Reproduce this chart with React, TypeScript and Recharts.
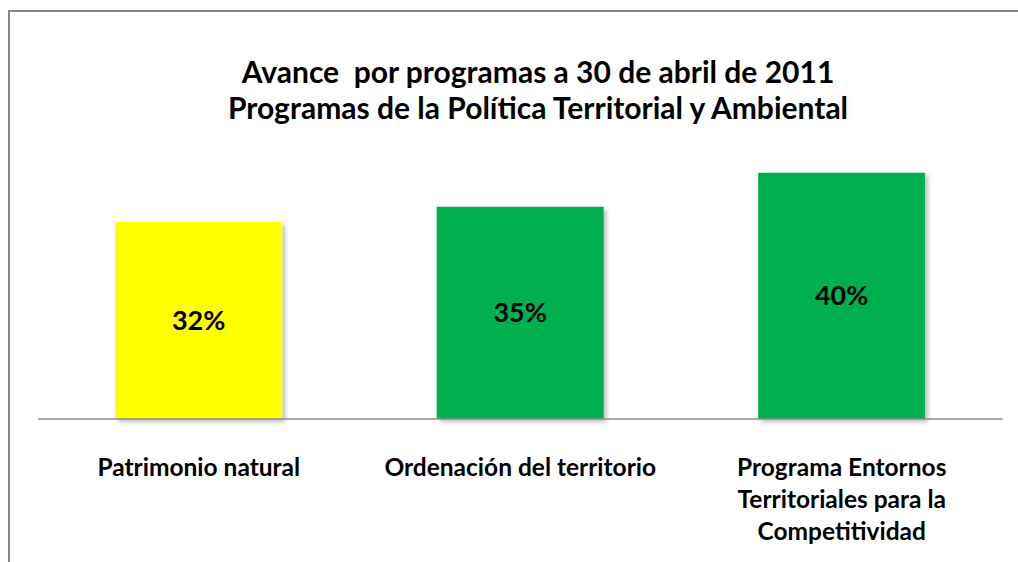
import React from 'react';
import { BarChart, Bar, XAxis, YAxis, Cell, LabelList } from 'recharts';

const categories = ['Patrimonio natural', 'Ordenación del territorio', 'Programa Entornos Territoriales para la Competitividad'];
const tickLines = [
  ['Patrimonio natural'],
  ['Ordenación del territorio'],
  ['Programa Entornos', 'Territoriales para la', 'Competitividad'],
];
const avance = [32, 34.5, 40];
const barColors = ['#FFFF00', '#00B050', '#00B050'];
const titleLines = ['Avance  por programas a 30 de abril de 2011', 'Programas de la Política Territorial y Ambiental'];

const data = categories.map((name, i) => ({ name, value: avance[i] }));

const FONT = 'Lato, "Open Sans", sans-serif';

const WrappedTick = (props: any) => {
  const { x, y, index } = props;
  const lines = tickLines[index] || [];
  return (
    <g transform={`translate(${x},${y})`}>
      {lines.map((l, i) => (
        <text key={i} x={0} y={49 + i * 32} textAnchor="middle" fontFamily={FONT} fontWeight={700} fontSize={24.5} fill="#000">
          {l}
        </text>
      ))}
    </g>
  );
};

const App: React.FC = () => {
  return (
    <div style={{ position: 'fixed', left: 8, top: 8, width: 1010, height: 554, background: '#fff', overflow: 'hidden' }}>
      <div style={{ position: 'absolute', left: 0, top: 2, width: 1100, height: 600, borderLeft: '2px solid #878787', borderTop: '2px solid #878787' }} />
      <div style={{ position: 'absolute', left: 0, top: 45, width: 960, paddingLeft: 50, textAlign: 'center', fontFamily: FONT, fontWeight: 700, fontSize: 30, lineHeight: '36px', color: '#000' }}>
        {titleLines.map((t, i) => (
          <div key={i} style={{ whiteSpace: 'pre' }}>{t}</div>
        ))}
      </div>
      <BarChart
        width={1010}
        height={554}
        data={data}
        margin={{ top: 134, right: 15.5, left: 30, bottom: 23 }}
        barCategoryGap="24%"
        style={{ position: 'absolute', left: 0, top: 0 }}
      >
        <defs>
          <filter id="barShadow" x="-10%" y="-10%" width="130%" height="130%">
            <feDropShadow dx="3" dy="3" stdDeviation="2" floodColor="#000" floodOpacity="0.25" />
          </filter>
        </defs>
        <XAxis dataKey="name" height={120} tick={<WrappedTick />} tickLine={false} axisLine={{ stroke: '#8c8c8c', strokeWidth: 1.5 }} interval={0} />
        <YAxis hide domain={[0, 45]} />
        <Bar dataKey="value" isAnimationActive={false} filter="url(#barShadow)">
          {data.map((d, i) => (
            <Cell key={d.name} fill={barColors[i]} />
          ))}
          <LabelList dataKey="value" position="center" formatter={(v: any) => `${Math.round(v)}%`} style={{ fontFamily: FONT, fontWeight: 700, fontSize: 27, fill: '#000' }} />
        </Bar>
      </BarChart>
    </div>
  );
};

export default App;
